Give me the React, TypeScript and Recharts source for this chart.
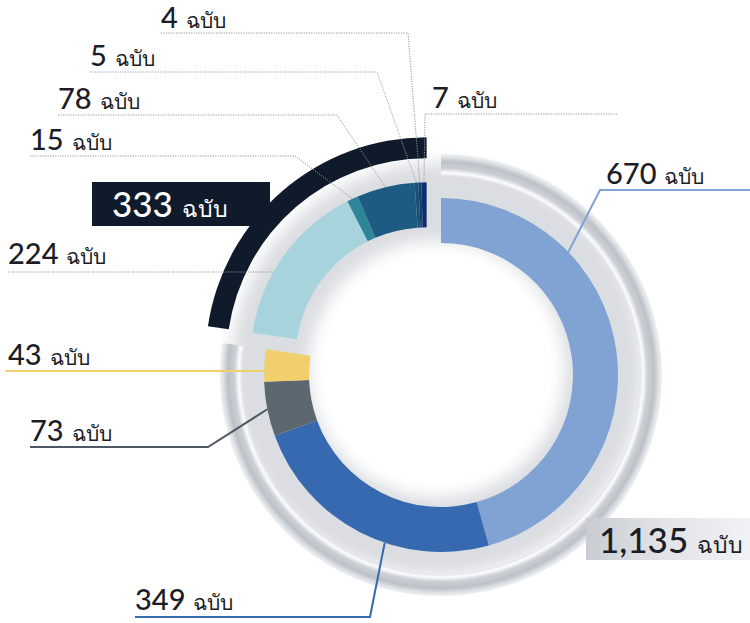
import { PieChart, Pie, Cell } from "recharts";

// outer ring: the two groups
const groupNames = ["กลุ่มที่ 1", "กลุ่มที่ 2"];
const groupTotals = [1135, 333];

// inner ring, first group, clockwise from 12 o'clock
const mainNames = ["a", "b", "c", "d"];
const mainValues = [670, 349, 73, 43];

// inner ring, second group, clockwise from the left
const minorNames = ["e", "f", "g", "h", "i", "j"];
const minorValues = [224, 15, 78, 5, 4, 7];

const unit = "ฉบับ";

const mainColors = ["#80a3d3", "#3769b1", "#5d676f", "#f1cf6b"];
const minorColors = ["#a7d3dd", "#2e8499", "#1d5b82", "#1a4e79", "#15406a", "#0b2e72"];
const groupColors = ["url(#tube)", "#0f1a2a"];

const W = 750;
const H = 623;
const CX = 441;
const CY = 375;
const EXPLODE = 22;
const FONT = "Lato, 'Noto Sans', 'DejaVu Sans', sans-serif";
const INK = "#1c1d26";

// label layout (text spot, underline, elbow), same order as the slices
type Spot = {
  tx: number;
  ty: number;
  ly: number;
  from: number;
  to?: number;
  color: string;
  dotted?: boolean;
  flat?: boolean;
  at?: number;
};

const mainSpots: Spot[] = [
  { tx: 606, ty: 184, ly: 190, from: 750, to: 600, color: "#7fa3d3", at: 0.28 },
  { tx: 135, ty: 610, ly: 617, from: 135, to: 370, color: "#3769b1", at: 0.4 },
  { tx: 30, ty: 441, ly: 447, from: 30, to: 208, color: "#4f5862" },
  { tx: 8, ty: 365, ly: 371, from: 5, color: "#f1cf6b", flat: true },
];

const minorSpots: Spot[] = [
  { tx: 8, ty: 264, ly: 272, from: 8, color: "#8d979f", dotted: true, flat: true },
  { tx: 30, ty: 150, ly: 156, from: 30, to: 295, color: "#8d979f", dotted: true },
  { tx: 58, ty: 109, ly: 115, from: 58, to: 337, color: "#8d979f", dotted: true },
  { tx: 90, ty: 66, ly: 72, from: 90, to: 377, color: "#8fa6bd", dotted: true },
  { tx: 161, ty: 28, ly: 33, from: 161, to: 408, color: "#8d979f", dotted: true },
  { tx: 432, ty: 108, ly: 114, from: 617, to: 425, color: "#8d979f", dotted: true },
];

const boxSpots = [
  { x: 586, y: 518, w: 164, h: 42, tx: 599, ty: 553, fill: "url(#plate)", ink: INK },
  { x: 92, y: 182, w: 178, h: 44, tx: 112, ty: 217, fill: "#0f1a2a", ink: "#ffffff" },
];

const fmt = (v: number) => v.toLocaleString("en-US");
const RAD = Math.PI / 180;

const total = groupTotals.reduce((a, b) => a + b, 0);
const split = 90 - (360 * groupTotals[0]) / total;
const minorMid = ((split - 270) / 2) * RAD;
const CX2 = CX + EXPLODE * Math.cos(minorMid);
const CY2 = CY - EXPLODE * Math.sin(minorMid);

const mainData = mainValues.map((value, i) => ({ name: mainNames[i], value }));
const minorData = minorValues.map((value, i) => ({ name: minorNames[i], value }));
const groupA = [{ name: groupNames[0], value: groupTotals[0] }];
const groupB = [{ name: groupNames[1], value: groupTotals[1] }];

const Amount = ({ x, y, value, ink, big }: any) => (
  <text x={x} y={y} fill={ink} fontFamily={FONT} fontWeight={500}>
    <tspan fontSize={big ? 35 : 29}>{fmt(value)}</tspan>
    <tspan fontSize={big ? 23 : 21} dx={big ? 9 : 8}>
      {unit}
    </tspan>
  </text>
);

const leader = (spots: Spot[]) => (props: any) => {
  const { cx, cy, outerRadius, startAngle, endAngle, midAngle, index, value } = props;
  const s = spots[index];
  const a0 = startAngle ?? midAngle;
  const a1 = endAngle ?? midAngle;
  let ex: number;
  let ey: number;
  if (s.flat) {
    ey = s.ly;
    ex = cx - Math.sqrt(outerRadius * outerRadius - (s.ly - cy) * (s.ly - cy));
  } else {
    const ang = (a0 + (a1 - a0) * (s.at ?? 0.5)) * RAD;
    ex = cx + outerRadius * Math.cos(ang);
    ey = cy - outerRadius * Math.sin(ang);
  }
  const pts = s.flat
    ? `${s.from},${s.ly} ${ex},${ey}`
    : `${s.from},${s.ly} ${s.to},${s.ly} ${ex},${ey}`;
  return (
    <g key={`lbl-${index}`}>
      <polyline
        points={pts}
        fill="none"
        stroke={s.color}
        strokeWidth={s.dotted ? 1 : 2}
        strokeDasharray={s.dotted ? "1.2 1.3" : undefined}
      />
      <Amount x={s.tx} y={s.ty} value={value} ink={INK} />
    </g>
  );
};

const plate = (k: number) => (props: any) => {
  const b = boxSpots[k];
  return (
    <g key={`box-${k}`}>
      <rect x={b.x} y={b.y} width={b.w} height={b.h} fill={b.fill} />
      <Amount x={b.tx} y={b.ty} value={props.value} ink={b.ink} big />
    </g>
  );
};

export default function App() {
  return (
    <div style={{ position: "absolute", left: 0, top: 0, width: W, height: H, background: "#fff" }}>
      <PieChart width={W} height={H} margin={{ top: 0, right: 0, bottom: 0, left: 0 }}>
        <defs>
          <radialGradient id="tube" gradientUnits="userSpaceOnUse" cx={CX} cy={CY} r={221}>
            <stop offset="0.9" stopColor="#dfe2e6" />
            <stop offset="0.915" stopColor="#fbfcfd" />
            <stop offset="0.935" stopColor="#ccd0d6" />
            <stop offset="0.965" stopColor="#bcc1c8" />
            <stop offset="0.985" stopColor="#dde0e4" />
            <stop offset="1" stopColor="#eff1f3" />
          </radialGradient>
          <linearGradient id="plate" x1="0" y1="0" x2="1" y2="0">
            <stop offset="0" stopColor="#c9cdd3" />
            <stop offset="0.5" stopColor="#e2e4e8" />
            <stop offset="1" stopColor="#f1f2f4" />
          </linearGradient>
          <filter id="soft" x="-20%" y="-20%" width="140%" height="140%">
            <feGaussianBlur stdDeviation="8" />
          </filter>
        </defs>

        {/* soft grey halo behind the rings */}
        <Pie
          data={[{ name: "halo", value: 1 }]}
          dataKey="value"
          cx={CX - 4}
          cy={CY - 6}
          innerRadius={128}
          outerRadius={206}
          startAngle={90}
          endAngle={-270}
          stroke="none"
          isAnimationActive={false}
        >
          <Cell fill="#dadde1" filter="url(#soft)" />
        </Pie>

        <Pie
          data={groupA}
          dataKey="value"
          cx={CX}
          cy={CY}
          innerRadius={199}
          outerRadius={221}
          startAngle={90}
          endAngle={split}
          stroke="none"
          label={plate(0)}
          labelLine={false}
          isAnimationActive={false}
        >
          <Cell fill={groupColors[0]} />
        </Pie>
        <Pie
          data={groupB}
          dataKey="value"
          cx={CX2}
          cy={CY2}
          innerRadius={200}
          outerRadius={221}
          startAngle={split}
          endAngle={-270}
          stroke="none"
          label={plate(1)}
          labelLine={false}
          isAnimationActive={false}
        >
          <Cell fill={groupColors[1]} />
        </Pie>

        <Pie
          data={mainData}
          dataKey="value"
          cx={CX}
          cy={CY}
          innerRadius={132}
          outerRadius={177}
          startAngle={90}
          endAngle={split}
          stroke="none"
          label={leader(mainSpots)}
          labelLine={false}
          isAnimationActive={false}
        >
          {mainData.map((d, i) => (
            <Cell key={d.name} fill={mainColors[i]} />
          ))}
        </Pie>
        <Pie
          data={minorData}
          dataKey="value"
          cx={CX2}
          cy={CY2}
          innerRadius={131}
          outerRadius={176}
          startAngle={split}
          endAngle={-270}
          stroke="none"
          label={leader(minorSpots)}
          labelLine={false}
          isAnimationActive={false}
        >
          {minorData.map((d, i) => (
            <Cell key={d.name} fill={minorColors[i]} />
          ))}
        </Pie>
      </PieChart>
    </div>
  );
}
